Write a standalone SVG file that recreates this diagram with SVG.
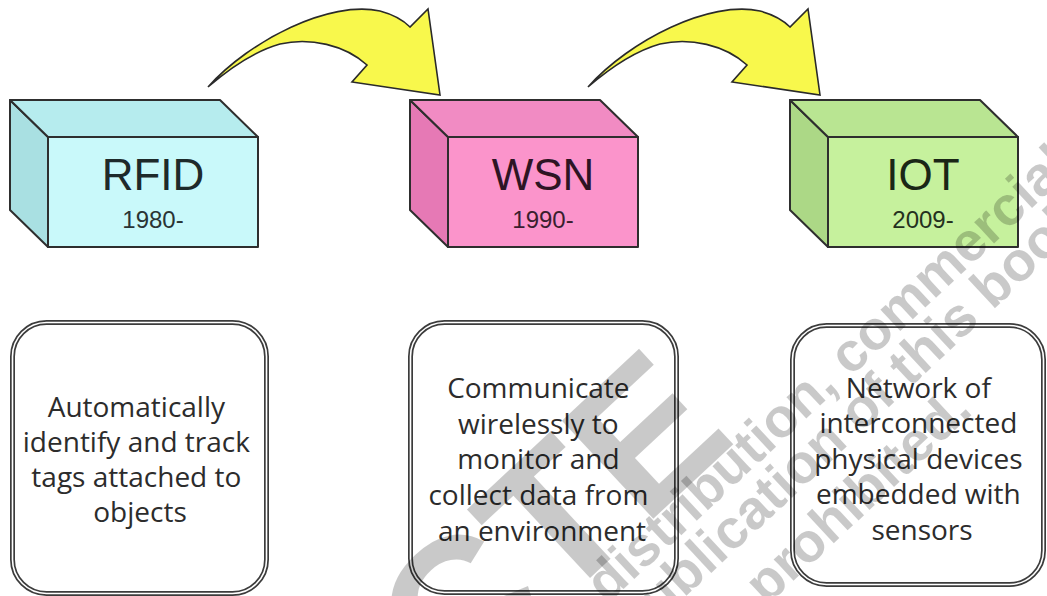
<svg xmlns="http://www.w3.org/2000/svg" width="1047" height="596" viewBox="0 0 1047 596">
  <defs>
    <style>
      .edge { stroke: #2e2e2e; stroke-width: 2; stroke-linejoin: round; }
      .title { font-family: "Liberation Sans", Arial, sans-serif; font-size: 44px; text-anchor: middle; }
      .year { font-family: "Liberation Sans", Arial, sans-serif; font-size: 24px; text-anchor: middle; }
      .frame-outer { fill: none; stroke: #3c3c3c; stroke-width: 5; }
      .frame-inner { fill: none; stroke: #ffffff; stroke-width: 1.6; }
      .desc { font-family: "Open Sans", "Noto Sans", sans-serif; font-size: 28px; fill: #2c2c2c; text-anchor: middle; }
      .arrow { fill: #f8f84c; stroke: #2a2a2a; stroke-width: 1.6; stroke-linejoin: miter; }
      .mark { font-family: "Liberation Sans", Arial, sans-serif; font-weight: bold; fill: #000000; fill-opacity: 0.21; text-anchor: middle; }
    </style>
    <path id="curved-arrow" d="M208,87 C250,40 330,0 380,11 C395,15 404,21 410,27 L428,9 L440,95 L352,82 L367,65 C345,45 310,37 280,44 C255,51 230,68 208,87 Z"/>
  </defs>

  <rect width="1047" height="596" fill="#ffffff"/>

  <!-- connectors: curved block arrows between the stages -->
  <g id="connectors">
    <use href="#curved-arrow" class="arrow"/>
    <use href="#curved-arrow" class="arrow" transform="translate(380,0)"/>
  </g>

  <!-- stage 1 -->
  <g id="node-rfid">
    <polygon class="edge" fill="#a9e0e2" points="10,100 48,137 48,247 10,210"/>
    <polygon class="edge" fill="#b6ecee" points="10,100 220,100 258,137 48,137"/>
    <rect class="edge" fill="#c9f9fa" x="48" y="137" width="210" height="110"/>
    <text class="title" x="153" y="190" fill="#1e2a2a">RFID</text>
    <text class="year" x="153" y="228" fill="#2a3434">1980-</text>
  </g>

  <!-- stage 2 -->
  <g id="node-wsn">
    <polygon class="edge" fill="#e679b5" points="410,100 448,137 448,247 410,210" stroke="#3a2030"/>
    <polygon class="edge" fill="#f18bc3" points="410,100 600,100 638,137 448,137" stroke="#3a2030"/>
    <rect class="edge" fill="#fb94cb" x="448" y="137" width="190" height="110" stroke="#3a2030"/>
    <text class="title" x="543" y="190" fill="#2e1424">WSN</text>
    <text class="year" x="543" y="228" fill="#3a1e2e">1990-</text>
  </g>

  <!-- stage 3 -->
  <g id="node-iot">
    <polygon class="edge" fill="#acd886" points="790,100 828,137 828,247 790,210" stroke="#253020"/>
    <polygon class="edge" fill="#b9e592" points="790,100 980,100 1018,137 828,137" stroke="#253020"/>
    <rect class="edge" fill="#c6f19d" x="828" y="137" width="190" height="110" stroke="#253020"/>
    <text class="title" x="923" y="190" fill="#1a2616">IOT</text>
    <text class="year" x="923" y="228" fill="#24301e">2009-</text>
  </g>

  <!-- descriptions -->
  <g id="desc-rfid">
    <rect class="frame-outer" x="12.5" y="322.5" width="254" height="271" rx="34"/>
    <rect class="frame-inner" x="12.5" y="322.5" width="254" height="271" rx="34"/>
    <text class="desc" x="140">
      <tspan x="140" y="417">Automatically</tspan>
      <tspan x="140" y="452">identify and track</tspan>
      <tspan x="140" y="487">tags attached to</tspan>
      <tspan x="140" y="522">objects</tspan>
    </text>
  </g>

  <g id="desc-wsn">
    <rect class="frame-outer" x="410.5" y="322.5" width="266" height="270" rx="34"/>
    <rect class="frame-inner" x="410.5" y="322.5" width="266" height="270" rx="34"/>
    <text class="desc" x="542">
      <tspan x="542" y="398">Communicate</tspan>
      <tspan x="542" y="434">wirelessly to</tspan>
      <tspan x="542" y="469">monitor and</tspan>
      <tspan x="542" y="505">collect data from</tspan>
      <tspan x="542" y="541">an environment</tspan>
    </text>
  </g>

  <g id="desc-iot">
    <rect class="frame-outer" x="792.5" y="325.5" width="251" height="259" rx="34"/>
    <rect class="frame-inner" x="792.5" y="325.5" width="251" height="259" rx="34"/>
    <text class="desc" x="922">
      <tspan x="922" y="398">Network of</tspan>
      <tspan x="922" y="433">interconnected</tspan>
      <tspan x="922" y="469">physical devices</tspan>
      <tspan x="922" y="504">embedded with</tspan>
      <tspan x="922" y="540">sensors</tspan>
    </text>
  </g>

  <!-- faint diagonal overprint -->
  <g id="overprint" transform="rotate(-43)">
    <text class="mark" x="-149" y="825" font-size="195" style="text-anchor:start">CTE</text>
    <text class="mark" x="351" y="856" font-size="55">distribution, commercial</text>
    <text class="mark" x="335" y="904" font-size="55">publication of this book</text>
    <text class="mark" x="289" y="966" font-size="55">prohibited.</text>
  </g>
</svg>
